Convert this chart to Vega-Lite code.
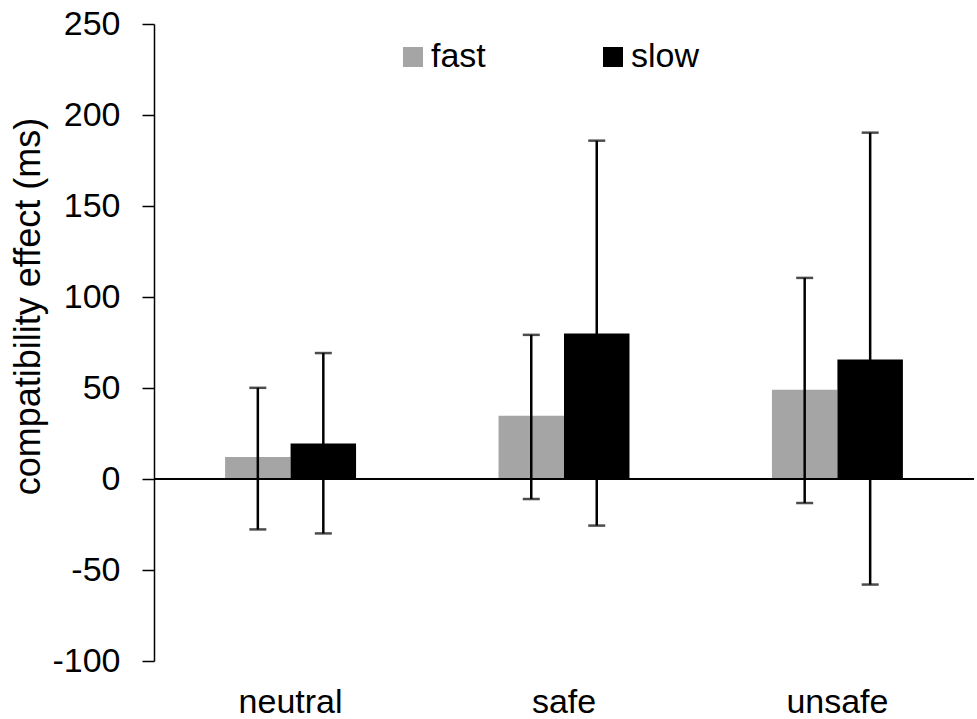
{
  "$schema": "https://vega.github.io/schema/vega-lite/v6.json",
  "width": 820,
  "height": 637,
  "autosize": {"type": "none"},
  "padding": {"left": 154, "top": 24, "right": 3, "bottom": 58},
  "background": "white",
  "config": {
    "view": {"stroke": null},
    "font": "Liberation Sans",
    "axis": {"labelFont": "Liberation Sans", "titleFont": "Liberation Sans", "labelColor": "black", "titleColor": "black"},
    "legend": {"labelFont": "Liberation Sans"}
  },
  "data": {
    "values": [
      {"condition": "neutral", "speed": "fast", "effect": 12.1, "lo": -27.7, "hi": 50.1},
      {"condition": "neutral", "speed": "slow", "effect": 19.5, "lo": -29.9, "hi": 69.2},
      {"condition": "safe", "speed": "fast", "effect": 34.8, "lo": -11.0, "hi": 79.2},
      {"condition": "safe", "speed": "slow", "effect": 80.0, "lo": -25.6, "hi": 185.9},
      {"condition": "unsafe", "speed": "fast", "effect": 49.0, "lo": -13.2, "hi": 110.5},
      {"condition": "unsafe", "speed": "slow", "effect": 65.7, "lo": -58.0, "hi": 190.3}
    ]
  },
  "encoding": {
    "x": {
      "field": "condition", "type": "nominal", "sort": ["neutral", "safe", "unsafe"],
      "scale": {"paddingInner": 0.521, "paddingOuter": 0.26},
      "axis": {"title": null, "domain": false, "ticks": false, "labelAngle": 0, "labelFontSize": 34, "labelPadding": 24, "labelColor": "black"}
    },
    "xOffset": {"field": "speed", "type": "nominal", "sort": ["fast", "slow"]}
  },
  "layer": [
    {
      "mark": {"type": "bar"},
      "encoding": {
        "y": {
          "field": "effect", "type": "quantitative",
          "scale": {"domain": [-100, 250], "nice": false, "zero": false},
          "axis": {
            "title": "compatibility effect (ms)", "titleFontSize": 36, "titleFontWeight": "normal",
            "titleX": -107, "titleY": 282, "titleAngle": 270, "titleBaseline": "bottom", "titleAlign": "center",
            "values": [-100, -50, 0, 50, 100, 150, 200, 250],
            "labelExpr": "'' + datum.value",
            "grid": false, "domainColor": "black", "domainWidth": 1.5,
            "tickColor": "black", "tickWidth": 1.5, "tickSize": 12,
            "labelFontSize": 34, "labelPadding": 22
          }
        },
        "color": {
          "field": "speed", "type": "nominal",
          "scale": {"domain": ["fast", "slow"], "range": ["#a5a5a5", "#000000"]},
          "legend": {
            "title": null, "orient": "none", "direction": "horizontal",
            "legendX": 242, "legendY": 16,
            "symbolType": "square", "symbolSize": 400, "symbolStrokeWidth": 0,
            "labelFontSize": 34, "labelOffset": 1, "columnPadding": 110, "labelColor": "black"
          }
        }
      }
    },
    {
      "mark": {"type": "rule", "color": "black", "strokeWidth": 1.5},
      "encoding": {"y": {"datum": 0, "type": "quantitative"}, "x": null, "xOffset": null}
    },
    {
      "mark": {"type": "rule", "color": "black", "strokeWidth": 2.5},
      "encoding": {"y": {"field": "lo", "type": "quantitative"}, "y2": {"field": "hi"}}
    },
    {
      "mark": {"type": "tick", "color": "black", "thickness": 2.5, "size": 17},
      "encoding": {"y": {"field": "lo", "type": "quantitative"}}
    },
    {
      "mark": {"type": "tick", "color": "black", "thickness": 2.5, "size": 17},
      "encoding": {"y": {"field": "hi", "type": "quantitative"}}
    }
  ]
}
